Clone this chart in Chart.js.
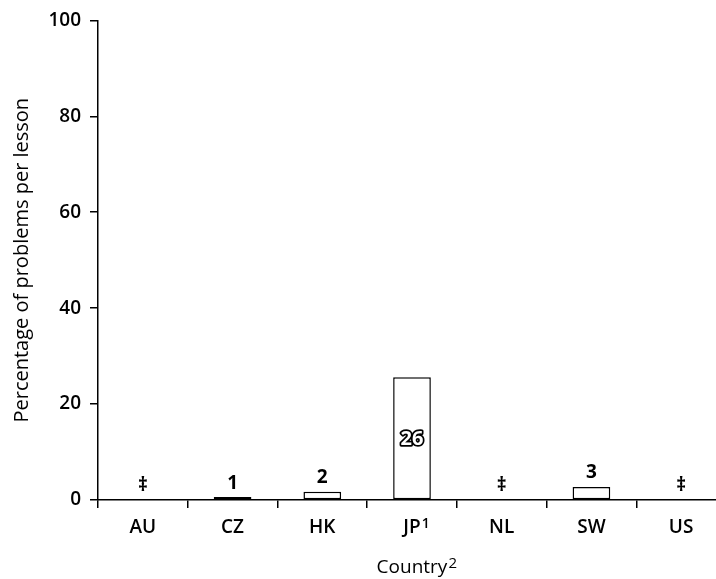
<!DOCTYPE html>
<html>
<head>
<meta charset="utf-8">
<script src="https://cdn.jsdelivr.net/npm/chart.js@4"></script>
<style>
html,body{margin:0;padding:0;background:#fff;overflow:hidden;}
#wrap{width:760px;height:579px;}
</style>
</head>
<body>
<div id="wrap"><canvas id="c" width="760" height="579"></canvas></div>
<script>
const categories = ['AU', 'CZ', 'HK', 'JP¹', 'NL', 'SW', 'US'];
const values = [0, 0.6, 1.7, 25.6, 0, 2.7, 0];
const valueLabels = ['‡', '1', '2', '26', '‡', '3', '‡'];
const labelInside = [false, false, false, true, false, false, false];
const yTicks = [0, 20, 40, 60, 80, 100];
const yTitle = 'Percentage of problems per lesson';
const xTitle = 'Country²';

const FONT = "'Open Sans', 'Noto Sans', sans-serif";
const SUP = { '¹': '1', '²': '2', '³': '3' };
const splitSup = s => {
  let base = '', sup = '';
  for (const ch of s) { if (SUP[ch]) sup += SUP[ch]; else base += ch; }
  return { base, sup };
};

const TICK_FONT = "600 19px " + FONT;
const TITLE_FONT = "400 19px " + FONT;

const labelPlugin = {
  id: 'valueLabels',
  afterDatasetsDraw(chart) {
    const ctx = chart.ctx;
    const meta = chart.getDatasetMeta(0);
    const yScale = chart.scales.y;
    ctx.save();
    ctx.textAlign = 'center';
    ctx.textBaseline = 'middle';
    meta.data.forEach((bar, i) => {
      const txt = valueLabels[i];
      if (labelInside[i]) {
        const yMid = (bar.y + yScale.getPixelForValue(0)) / 2;
        ctx.font = "700 20px " + FONT;
        ctx.lineWidth = 3.5;
        ctx.strokeStyle = '#000';
        ctx.lineJoin = 'round';
        ctx.strokeText(txt, bar.x, yMid + 1);
        ctx.fillStyle = '#fff';
        ctx.fillText(txt, bar.x, yMid + 1);
      } else {
        ctx.font = "700 19px " + FONT;
        ctx.fillStyle = '#000';
        ctx.fillText(txt, bar.x, bar.y - 14);
      }
    });
    ctx.restore();
  },
  afterDraw(chart) {
    // superscripts for x tick labels and x title
    const ctx = chart.ctx;
    const xs = chart.scales.x;
    ctx.save();
    ctx.fillStyle = '#000';
    ctx.textBaseline = 'alphabetic';
    ctx.textAlign = 'left';
    categories.forEach((c, i) => {
      const p = splitSup(c);
      if (!p.sup) return;
      ctx.font = TICK_FONT;
      const w = ctx.measureText(p.base).width;
      const cx = xs.getPixelForTick(i);
      const baseY = xs.top + 8 + 8 + 11.4 + 7; // approx baseline of tick label
      ctx.font = "600 14px " + FONT;
      ctx.fillText(p.sup, cx + w / 2 + 1, baseY - 6);
    });
    const t = splitSup(xTitle);
    if (t.sup) {
      ctx.font = TITLE_FONT;
      const w = ctx.measureText(t.base).width;
      const cx = (chart.chartArea.left + chart.chartArea.right) / 2;
      const baseY = 567 + 7;
      ctx.font = "400 15px " + FONT;
      ctx.fillText(t.sup, cx + w / 2 + 1, baseY - 6);
    }
    ctx.restore();
  }
};

new Chart(document.getElementById('c'), {
  type: 'bar',
  data: {
    labels: categories,
    datasets: [{
      data: values,
      backgroundColor: '#fff',
      borderColor: '#000',
      borderWidth: 1.5,
      borderSkipped: false,
      barPercentage: 0.42,
      categoryPercentage: 1.0
    }]
  },
  options: {
    responsive: false,
    animation: false,
    events: [],
    layout: { padding: { top: 20, right: 34, left: 0, bottom: 0 } },
    plugins: { legend: { display: false }, tooltip: { enabled: false } },
    scales: {
      x: {
        offset: true,
        grid: { display: true, drawOnChartArea: false, offset: true, tickLength: 8, color: '#000', lineWidth: 1.5 },
        border: { display: true, color: '#000', width: 1.5 },
        ticks: {
          color: '#000', padding: 8, font: { family: FONT, size: 19, weight: '600' },
          callback(v, i) { return splitSup(categories[i]).base; }
        },
        title: { display: true, text: splitSup(xTitle).base, color: '#000', padding: { top: 1, bottom: 0 }, font: { family: FONT, size: 19, weight: '400' } },
        afterFit(s) { s.height = 79; }
      },
      y: {
        min: 0, max: 100,
        afterBuildTicks(s) { s.ticks = yTicks.map(v => ({ value: v })); },
        grid: { display: true, drawOnChartArea: false, tickLength: 8, color: '#000', lineWidth: 1.5 },
        border: { display: true, color: '#000', width: 1.5 },
        ticks: { color: '#000', padding: 9, font: { family: FONT, size: 19, weight: '600' } },
        title: { display: true, text: yTitle, color: '#000', padding: { top: 10, bottom: 0 }, font: { family: FONT, size: 20, weight: '400' } },
        afterFit(s) { s.width = 98; }
      }
    }
  },
  plugins: [labelPlugin]
});
</script>
</body>
</html>
